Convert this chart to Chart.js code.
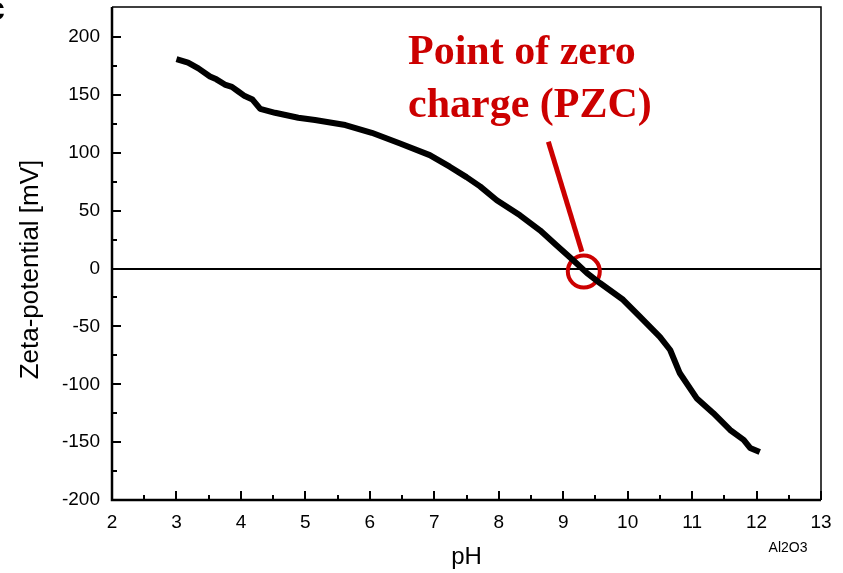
<!DOCTYPE html>
<html>
<head>
<meta charset="utf-8">
<script src="https://cdn.jsdelivr.net/npm/chart.js@4/dist/chart.umd.min.js"></script>
<style>
  html, body { margin: 0; padding: 0; background: #fff; }
  #wrap { width: 843px; height: 573px; }
</style>
</head>
<body>
<div id="wrap"><canvas id="c" width="843" height="573"></canvas></div>
<script>
// Zeta-potential titration curve of Al2O3
const phValues = [3.00, 3.18, 3.34, 3.52, 3.62, 3.75, 3.86, 3.96, 4.06, 4.18, 4.30, 4.53, 4.89, 5.15, 5.62, 6.03, 6.47, 6.93, 7.24, 7.50, 7.71, 7.97, 8.33, 8.64, 8.90, 9.16, 9.37, 9.57, 9.93, 10.19, 10.50, 10.66, 10.81, 11.07, 11.33, 11.59, 11.80, 11.90, 12.05];
const zetaValues = [181, 178, 173, 166, 163.5, 159, 157, 153, 149, 146, 138, 134.6, 130.3, 128.3, 124, 117.3, 108, 98, 88, 79, 71, 59, 46, 33, 20, 7, -4, -12.5, -27, -41.6, -59, -70.4, -90.5, -112, -125, -139.5, -148, -155, -158.5];

// Point of zero charge marker and its pointer line
const pzcPH = [9.32];
const pzcZeta = [-2.6];
const pointerPH = [8.77, 9.29];
const pointerZeta = [109.5, 14.5];

// Axis ticks
const xTicks = [2, 3, 4, 5, 6, 7, 8, 9, 10, 11, 12, 13];
const yTicks = [-200, -150, -100, -50, 0, 50, 100, 150, 200];

const yAxisTitle = 'Zeta-potential [mV]';
const annotationLines = ['Point of zero', 'charge (PZC)'];
const sampleLabel = 'Al2O3';
const RED = '#cc0000';

const toPoints = (xs, ys) => xs.map((x, i) => ({ x, y: ys[i] }));

// Frame, inward tick marks and free text
const framePlugin = {
  id: 'frame',
  afterDraw(chart) {
    const ctx = chart.ctx;
    const a = chart.chartArea;
    const xs = chart.scales.x, ys = chart.scales.y;
    ctx.save();
    ctx.strokeStyle = '#000';
    // top and right border
    ctx.lineWidth = 1.5;
    ctx.beginPath();
    ctx.moveTo(a.left, a.top); ctx.lineTo(a.right, a.top); ctx.lineTo(a.right, a.bottom);
    ctx.stroke();
    // left and bottom axes
    ctx.lineWidth = 2.5;
    ctx.beginPath();
    ctx.moveTo(a.left, a.top); ctx.lineTo(a.left, a.bottom); ctx.lineTo(a.right, a.bottom);
    ctx.stroke();
    // tick marks pointing inward
    ctx.lineWidth = 2;
    ctx.beginPath();
    xs.ticks.forEach(t => {
      const px = Math.round(xs.getPixelForValue(t.value));
      const len = xTicks.includes(t.value) ? 9 : 5;
      ctx.moveTo(px, a.bottom); ctx.lineTo(px, a.bottom - len);
    });
    ys.ticks.forEach(t => {
      const py = Math.round(ys.getPixelForValue(t.value));
      const len = yTicks.includes(t.value) ? 9 : 5;
      ctx.moveTo(a.left, py); ctx.lineTo(a.left + len, py);
    });
    ctx.stroke();

    // vertical axis title, centred on the zero line
    ctx.fillStyle = '#000';
    ctx.font = '26px "Liberation Sans", Arial, sans-serif';
    ctx.textAlign = 'center';
    ctx.textBaseline = 'middle';
    ctx.save();
    ctx.translate(31, ys.getPixelForValue(0) + 1);
    ctx.rotate(-Math.PI / 2);
    ctx.fillText(yAxisTitle, 0, 0);
    ctx.restore();

    // annotation text
    ctx.fillStyle = RED;
    ctx.font = 'bold 42px "Liberation Serif", "Times New Roman", serif';
    ctx.textAlign = 'left';
    ctx.textBaseline = 'alphabetic';
    ctx.fillText(annotationLines[0], a.left + 296, a.top + 57);
    ctx.fillText(annotationLines[1], a.left + 296, a.top + 110);

    // sample label
    ctx.fillStyle = '#000';
    ctx.font = '14px "Liberation Sans", Arial, sans-serif';
    ctx.textAlign = 'center';
    ctx.textBaseline = 'middle';
    ctx.fillText(sampleLabel, 788, 548);

    // panel letter at the corner
    ctx.font = 'bold 34px "Liberation Sans", Arial, sans-serif';
    ctx.textAlign = 'left';
    ctx.textBaseline = 'alphabetic';
    ctx.fillText('c', -14, 20);
    ctx.restore();
  }
};

new Chart(document.getElementById('c'), {
  type: 'scatter',
  data: {
    datasets: [
      {
        label: 'Zeta potential',
        data: toPoints(phValues, zetaValues),
        showLine: true,
        borderColor: '#000',
        borderWidth: 6,
        borderJoinStyle: 'round',
        tension: 0,
        pointRadius: 0,
        order: 0
      },
      {
        label: 'pointer',
        data: toPoints(pointerPH, pointerZeta),
        showLine: true,
        borderColor: RED,
        borderWidth: 5,
        pointRadius: 0,
        order: 2
      },
      {
        label: 'PZC',
        data: toPoints(pzcPH, pzcZeta),
        showLine: false,
        pointRadius: 16,
        pointBorderWidth: 4,
        pointBorderColor: RED,
        pointBackgroundColor: 'rgba(0,0,0,0)',
        order: 1
      }
    ]
  },
  options: {
    responsive: false,
    animation: false,
    devicePixelRatio: 1,
    layout: { autoPadding: false, padding: { top: 7, right: 22, left: 0, bottom: 0 } },
    plugins: { legend: { display: false }, tooltip: { enabled: false } },
    scales: {
      x: {
        type: 'linear',
        min: 2, max: 13,
        afterBuildTicks(scale) {
          const t = [];
          for (let v = 2; v <= 13; v += 0.5) t.push({ value: v });
          scale.ticks = t;
        },
        afterFit(scale) {
          scale.height = 73;
          scale.paddingLeft = 0; scale.paddingRight = 0;
        },
        grid: { display: false, drawTicks: false },
        border: { display: false },
        ticks: {
          padding: 11,
          color: '#000',
          font: { family: '"Liberation Sans", Arial, sans-serif', size: 19 },
          maxRotation: 0,
          autoSkip: false,
          callback: v => xTicks.includes(v) ? String(v) : ''
        },
        title: {
          display: true,
          text: 'pH',
          color: '#000',
          font: { family: '"Liberation Sans", Arial, sans-serif', size: 24 },
          padding: { top: 0, bottom: 1 }
        }
      },
      y: {
        type: 'linear',
        min: -200, max: 226,
        afterBuildTicks(scale) {
          const t = [];
          for (let v = -200; v <= 200; v += 25) t.push({ value: v });
          scale.ticks = t;
        },
        afterFit(scale) {
          scale.width = 112;
          scale.paddingTop = 0; scale.paddingBottom = 0;
        },
        grid: {
          drawTicks: false,
          color: c => (c.tick && c.tick.value === 0) ? '#000' : 'rgba(0,0,0,0)',
          lineWidth: 2
        },
        border: { display: false },
        ticks: {
          padding: 12,
          color: '#000',
          font: { family: '"Liberation Sans", Arial, sans-serif', size: 19 },
          autoSkip: false,
          callback: v => yTicks.includes(v) ? String(v) : ''
        },
        title: { display: false }
      }
    }
  },
  plugins: [framePlugin]
});
</script>
</body>
</html>
